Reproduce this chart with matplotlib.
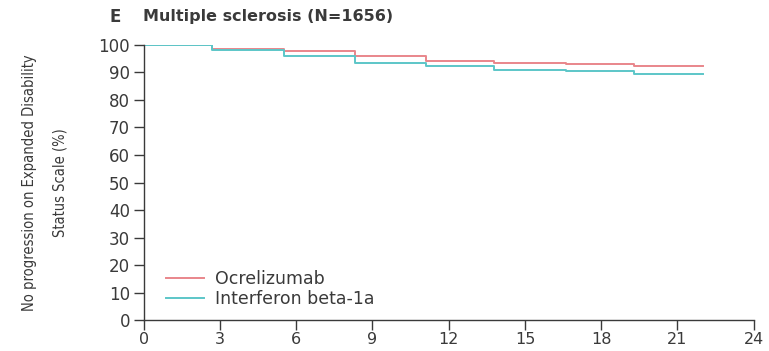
import matplotlib
matplotlib.use("Agg")
import matplotlib.pyplot as plt
from matplotlib import font_manager

# Kaplan-Meier style step data (months vs % without progression)
months = [0, 2.7, 5.5, 8.3, 11.1, 13.8, 16.6, 19.3, 22.0]
ocrelizumab = [100, 98.5, 97.9, 96.0, 94.3, 93.5, 93.1, 92.4, 92.4]
interferon = [100, 98.1, 95.9, 93.6, 92.2, 91.0, 90.4, 89.5, 89.5]

x_ticks = [0, 3, 6, 9, 12, 15, 18, 21, 24]
y_ticks = [0, 10, 20, 30, 40, 50, 60, 70, 80, 90, 100]

red = "#e9868b"
teal = "#5cc6c8"
ink = "#3a3a3a"

# condensed face for the y label if one is around
label_font = None
for f in font_manager.fontManager.ttflist:
    fn = f.fname.lower()
    if "narrow" in fn and "liberationsans" in fn.replace("-", "") and "bold" not in fn and "italic" not in fn:
        label_font = font_manager.FontProperties(fname=f.fname)
        break
if label_font is None:
    for f in font_manager.fontManager.ttflist:
        fn = f.fname.lower()
        if "dejavusanscondensed.ttf" in fn:
            label_font = font_manager.FontProperties(fname=f.fname)
            break
if label_font is None:
    label_font = font_manager.FontProperties(family="DejaVu Sans")

fig = plt.figure(figsize=(7.69, 3.51), dpi=100)
ax = fig.add_axes([0.187, 0.088, 0.793, 0.784])

ax.step(months, ocrelizumab, where="post", color=red, lw=1.4, label="Ocrelizumab")
ax.step(months, interferon, where="post", color=teal, lw=1.4, label="Interferon beta-1a")

ax.set_xlim(0, 24)
ax.set_ylim(0, 100)
ax.set_xticks(x_ticks)
ax.set_yticks(y_ticks)
ax.tick_params(direction="out", length=7, width=1, color=ink,
               labelsize=12, labelcolor=ink)
ax.tick_params(axis="x", pad=1.5, labelsize=11.5)
ax.tick_params(axis="y", pad=3)
for side in ("top", "right"):
    ax.spines[side].set_visible(False)
for side in ("left", "bottom"):
    ax.spines[side].set_color(ink)
    ax.spines[side].set_linewidth(1)
ax.margins(0)

label_font.set_size(10.5)
ax.set_ylabel("No progression on Expanded Disability\nStatus Scale (%)",
              fontproperties=label_font, color=ink, linespacing=2.3, labelpad=22)

leg = ax.legend(loc="lower left", bbox_to_anchor=(0.025, 0.02), frameon=False,
                fontsize=12.5, handlelength=2.2, handletextpad=0.6,
                labelspacing=0.1, borderaxespad=0)
for t in leg.get_texts():
    t.set_color(ink)

fig.text(0.143, 0.952, "E", fontsize=12, fontweight="bold", color=ink, va="center")
fig.text(0.186, 0.952, "Multiple sclerosis (N=1656)", fontsize=11.5,
         fontweight="bold", color=ink, va="center")

fig.savefig("out.png", dpi=100)
